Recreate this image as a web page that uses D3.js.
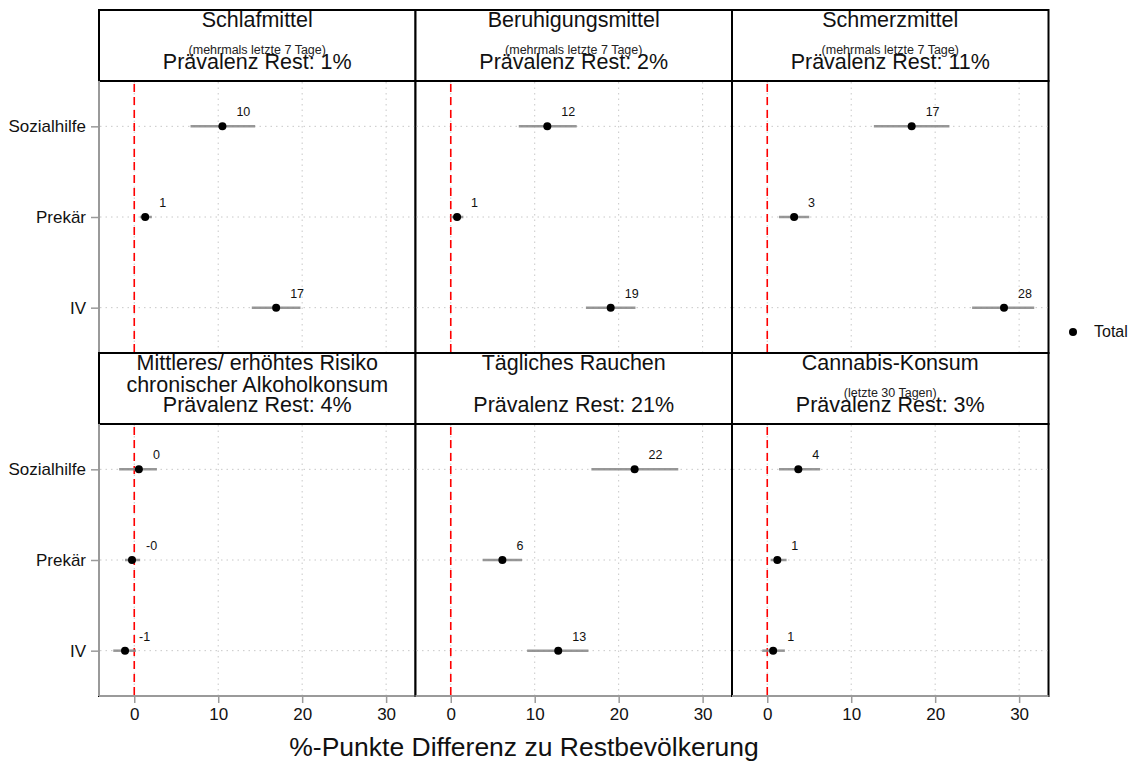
<!DOCTYPE html>
<html><head><meta charset="utf-8">
<script src="https://cdn.jsdelivr.net/npm/d3@7"></script>
<style>body{margin:0;background:#fff;}svg{font-family:"Liberation Sans",Arial,sans-serif;}</style>
</head><body><svg id="c" width="1135" height="765"></svg>
<script>
const categories = ["Sozialhilfe", "Prekär", "IV"];
const panelTitles = [["Schlafmittel"], ["Beruhigungsmittel"], ["Schmerzmittel"],
  ["Mittleres/ erhöhtes Risiko", "chronischer Alkoholkonsum"], ["Tägliches Rauchen"], ["Cannabis-Konsum"]];
const subtitles = ["(mehrmals letzte 7 Tage)", "(mehrmals letzte 7 Tage)", "(mehrmals letzte 7 Tage)", "", "", "(letzte 30 Tagen)"];
const prevalence = ["1%", "2%", "11%", "4%", "21%", "3%"];
const estimates = [[10.5, 1.3, 16.9], [11.5, 0.75, 19.05], [17.2, 3.2, 28.2], [0.55, -0.27, -1.1], [21.9, 6.15, 12.8], [3.7, 1.2, 0.7]];
const lower = [[6.7, 0.7, 14.0], [8.1, 0.0, 16.1], [12.7, 1.4, 24.4], [-1.8, -1.1, -2.5], [16.75, 3.8, 9.1], [1.4, 0.4, -0.6]];
const upper = [[14.4, 2.1, 19.8], [15.0, 1.5, 22.0], [21.7, 5.0, 31.8], [2.7, 0.7, 0.2], [27.1, 8.5, 16.4], [6.3, 2.3, 2.1]];
const valueLabels = [["10", "1", "17"], ["12", "1", "19"], ["17", "3", "28"], ["0", "-0", "-1"], ["22", "6", "13"], ["4", "1", "1"]];
const xTicks = [0, 10, 20, 30];
const xTitle = "%-Punkte Differenz zu Restbevölkerung";
const legendLabel = "Total";

const svg = d3.select("#c");
const left0 = 99, panelW = 316.5, stripH = 71, plotH = 272;
const rowTops = [10, 353];
const FF = "Liberation Sans, Arial, sans-serif";

panelTitles.forEach((title, i) => {
  const col = i % 3, row = Math.floor(i / 3);
  const px = left0 + col * panelW;
  const sy = rowTops[row];
  const py = sy + stripH;
  const x = d3.scaleLinear().domain([-4.2, 33.5]).range([px, px + panelW]);
  const y = d3.scalePoint().domain(categories).range([py, py + plotH]).padding(0.5);
  const g = svg.append("g");

  // strip
  g.append("rect").attr("x", px).attr("y", sy).attr("width", panelW).attr("height", stripH)
    .attr("fill", "#fff").attr("stroke", "#000").attr("stroke-width", 2);
  const cx = px + panelW / 2;
  title.forEach((t, k) => {
    g.append("text").attr("x", cx).attr("y", sy + 17 + k * 21.5).attr("text-anchor", "middle")
      .attr("font-size", 21.5).attr("fill", "#111").text(t);
  });
  if (subtitles[i]) {
    g.append("text").attr("x", cx).attr("y", sy + 44).attr("text-anchor", "middle")
      .attr("font-size", 12.5).attr("fill", "#222").text(subtitles[i]);
  }
  g.append("text").attr("x", cx).attr("y", sy + 59).attr("text-anchor", "middle")
    .attr("font-size", 21.5).attr("fill", "#111").text("Prävalenz Rest: " + prevalence[i]);

  // plot panel
  g.append("rect").attr("x", px).attr("y", py).attr("width", panelW).attr("height", plotH)
    .attr("fill", "#fff").attr("stroke", "#000").attr("stroke-width", 2);

  // grid
  g.selectAll(".vg").data(xTicks).join("line")
    .attr("x1", d => x(d)).attr("x2", d => x(d)).attr("y1", py + 1).attr("y2", py + plotH - 1)
    .attr("stroke", "#c8c8c8").attr("stroke-width", 1).attr("stroke-dasharray", "1.5,4");
  g.selectAll(".hg").data(categories).join("line")
    .attr("x1", px + 1).attr("x2", px + panelW - 1).attr("y1", d => y(d)).attr("y2", d => y(d))
    .attr("stroke", "#c8c8c8").attr("stroke-width", 1).attr("stroke-dasharray", "1.5,4");

  // zero line
  g.append("line").attr("x1", x(0)).attr("x2", x(0)).attr("y1", py + 3).attr("y2", py + plotH)
    .attr("stroke", "#f00").attr("stroke-width", 1.6).attr("stroke-dasharray", "8,5");

  // CIs
  categories.forEach((c, j) => {
    g.append("line").attr("x1", x(lower[i][j])).attr("x2", x(upper[i][j]))
      .attr("y1", y(c)).attr("y2", y(c)).attr("stroke", "#8c8c8c").attr("stroke-width", 2.5).attr("opacity", 0.9);
  });
  categories.forEach((c, j) => {
    g.append("circle").attr("cx", x(estimates[i][j])).attr("cy", y(c)).attr("r", 4).attr("fill", "#000");
    g.append("text").attr("x", x(estimates[i][j]) + 14).attr("y", y(c) - 10)
      .attr("font-size", 12.5).attr("fill", "#111").text(valueLabels[i][j]);
  });

  // axes
  if (row === 1) {
    g.append("line").attr("x1", px).attr("x2", px + panelW).attr("y1", py + plotH).attr("y2", py + plotH)
      .attr("stroke", "#9a9a9a").attr("stroke-width", 2);
    const ax = d3.axisBottom(x).tickValues(xTicks).tickSize(7).tickPadding(5).tickFormat(d3.format("d"));
    const a = g.append("g").attr("transform", `translate(0,${py + plotH})`).call(ax);
    a.select(".domain").remove();
    a.selectAll(".tick line").attr("stroke", "#9a9a9a").attr("stroke-width", 1.5);
    a.selectAll(".tick text").attr("font-size", 17).attr("fill", "#111").attr("font-family", FF);
  }
  if (col === 0) {
    g.append("line").attr("x1", px).attr("x2", px).attr("y1", py).attr("y2", py + plotH)
      .attr("stroke", "#9a9a9a").attr("stroke-width", 2);
    const ay = d3.axisLeft(y).tickSize(8).tickPadding(5);
    const a = g.append("g").attr("transform", `translate(${px},0)`).call(ay);
    a.select(".domain").remove();
    a.selectAll(".tick line").attr("stroke", "#9a9a9a").attr("stroke-width", 1.5);
    a.selectAll(".tick text").attr("font-size", 17).attr("fill", "#111").attr("font-family", FF);
  }
});

// x title
svg.append("text").attr("x", 524).attr("y", 756).attr("text-anchor", "middle")
  .attr("font-size", 26.5).attr("fill", "#111").text(xTitle);

// legend
svg.append("circle").attr("cx", 1073).attr("cy", 332).attr("r", 4).attr("fill", "#000");
svg.append("text").attr("x", 1094).attr("y", 337).attr("font-size", 16).attr("fill", "#111").text(legendLabel);
</script></body></html>
